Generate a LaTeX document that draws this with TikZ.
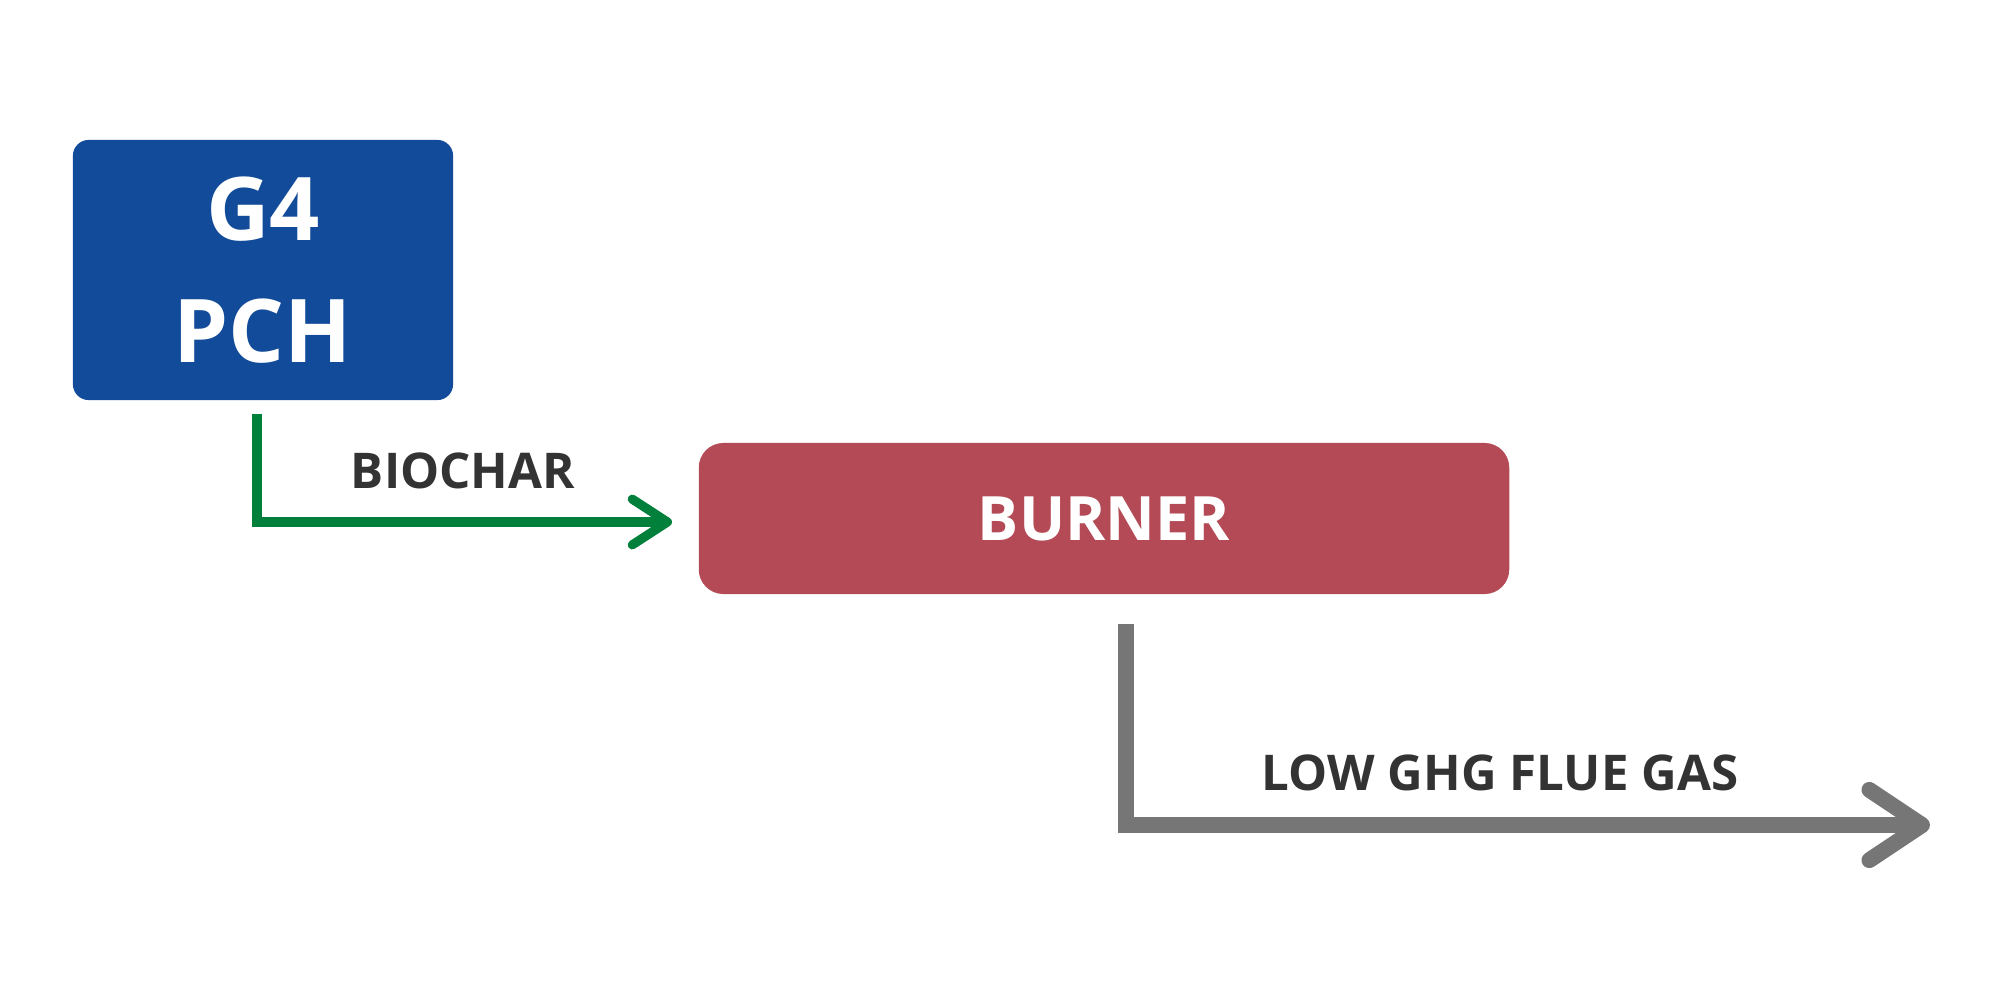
\documentclass[tikz,border=0pt]{standalone}
\usepackage{fontspec}
\setmainfont{Open Sans}
\usetikzlibrary{arrows.meta}
\definecolor{pchblue}{HTML}{114B99}
\definecolor{burnred}{HTML}{B34A55}
\definecolor{flowgreen}{HTML}{00803A}
\definecolor{flowgray}{HTML}{767676}
\definecolor{labelgray}{HTML}{333333}
\tikzset{
  procbox/.style={draw=none, text=white, align=center, font=\bfseries},
  flowlabel/.style={text=labelgray, font=\fontsize{14}{17}\selectfont\bfseries},
  greenflow/.style={draw=flowgreen, line width=2.6pt, line join=miter,
    -{Straight Barb[length=10pt, width=13pt, line cap=round, line join=round]}},
  grayflow/.style={draw=flowgray, line width=4.5pt, line join=miter,
    -{Straight Barb[length=15pt, width=20pt, line cap=round, line join=round]}}
}
\begin{document}
\begin{tikzpicture}[x=0.01cm,y=-0.01cm]
\useasboundingbox (0,0) rectangle (2000,1000);
\node[procbox, fill=pchblue, rounded corners=4.5pt, minimum width=3.8cm, minimum height=2.6cm,
  font=\fontsize{25}{34.7}\selectfont\bfseries] (g4) at (263,270) {G4\\PCH};
\node[procbox, fill=burnred, rounded corners=7pt, minimum width=8.1cm, minimum height=1.51cm,
  font=\fontsize{17.4}{20}\selectfont\bfseries] (burner) at (1104,518.5) {BURNER};
\coordinate (bs) at (257,414);
\coordinate (be) at (672,522);
\draw[greenflow] (bs) |- (be);
\node[flowlabel] (biochar) at (463,471) {BIOCHAR};
\coordinate (gs) at (1126,624);
\coordinate (ge) at (1930,825);
\draw[grayflow] (gs) |- (ge);
\node[flowlabel] (flue) at (1500,773) {LOW GHG FLUE GAS};
\end{tikzpicture}
\end{document}
